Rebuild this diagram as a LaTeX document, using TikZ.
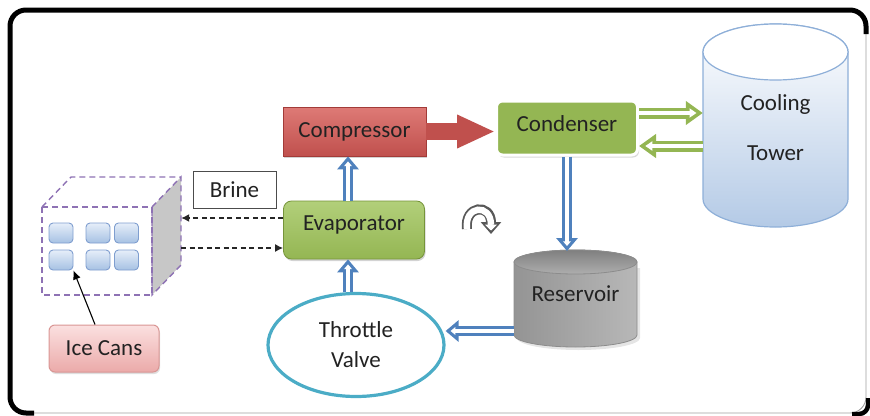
\documentclass[tikz,border=0pt]{standalone}
\usepackage{fontspec}
\setmainfont{Carlito}
\usetikzlibrary{arrows.meta,shapes.geometric,shadows,calc}

\definecolor{frameGray}{HTML}{A0A0A0}
\definecolor{compRed}{HTML}{C0504D}
\definecolor{compRedLight}{HTML}{DE7A76}
\definecolor{compRedDark}{HTML}{A23B38}
\definecolor{leafGreen}{HTML}{94B653}
\definecolor{leafGreenLight}{HTML}{B2CF7A}
\definecolor{leafGreenDark}{HTML}{76943A}
\definecolor{pipeBlue}{HTML}{4F81BD}
\definecolor{valveCyan}{HTML}{4BACC6}
\definecolor{tankPurple}{HTML}{8E72B4}
\definecolor{towerEdge}{HTML}{8EAFD8}
\definecolor{towerFill}{HTML}{B4CAE6}
\definecolor{canEdge}{HTML}{7F9ECF}
\definecolor{canTop}{HTML}{E6EEF9}
\definecolor{canBottom}{HTML}{A6C1E3}
\definecolor{tagEdge}{HTML}{D99694}
\definecolor{tagTop}{HTML}{FBE0E0}
\definecolor{tagBottom}{HTML}{EBAAA9}
\definecolor{inkGray}{HTML}{222222}

\tikzset{
  every node/.style={font=\fontsize{23}{27}\selectfont, text=inkGray},
  unitbox/.style={minimum width=#1, inner sep=0pt},
  pipe/.style={line width=10pt, -{Triangle[length=13pt,width=21pt]}},
  pipecore/.style={white, line width=3.6pt, shorten >=5pt, -{Triangle[length=4.7pt,width=7.6pt]}},
  gpipe/.style={line width=11pt, -{Triangle[length=17pt,width=23pt]}},
  gpipecore/.style={white, line width=4.4pt, shorten >=6.3pt, -{Triangle[length=7pt,width=9pt]}},
  brineflow/.style={black!85, line width=1.3pt, dash pattern=on 5pt off 3.5pt, -{Latex[length=8pt,width=8pt]}},
  icecan/.style={rounded corners=4pt, draw=canEdge, line width=0.9pt, top color=canTop, bottom color=canBottom, minimum width=24pt, minimum height=20pt, inner sep=0pt},
  greenbox/.style={rounded corners=8pt, draw=leafGreenDark, line width=0.8pt, top color=leafGreenLight, bottom color=leafGreen, inner sep=0pt},
  tankedge/.style={draw=tankPurple, line width=1.4pt, dash pattern=on 6pt off 4pt},
}

% hollow block arrow: coloured outline, white core
\newcommand{\hollowpipe}[4]{%
  \draw[#1, #2] #3 -- #4;
  \draw[#2core] #3 -- #4;
}

\begin{document}
\begin{tikzpicture}[x=1pt,y=-1pt]
\useasboundingbox (0,0) rectangle (870,415);

% outer frame
\draw[frameGray, line width=0.9pt, rounded corners=16pt] (10,10) rectangle (866,413);
\draw[black, line width=5pt, rounded corners=16pt] (34,413) -- (10,413) -- (10,10) -- (866,10) -- (866,34);
\draw[black, line width=4.5pt, rounded corners=9pt] (868,398) -- (868,414) -- (852,414);

% cooling tower cylinder
\shade[top color=white, bottom color=towerFill, draw=towerEdge, line width=1.2pt]
  (703,52) -- (703,199) arc[start angle=180, end angle=0, x radius=72.5, y radius=28]
  -- (848,52) arc[start angle=0, end angle=-180, x radius=72.5, y radius=28] -- cycle;
\draw[towerEdge, line width=1.2pt, fill=white] (775.5,52) ellipse[x radius=72.5, y radius=28];
\node[unitbox=145pt, minimum height=150pt, align=center, font=\fontsize{23}{50}\selectfont] (ct) at (775.5,128) {Cooling\\Tower};

% reservoir cylinder
\fill[black!10] (517,268) -- (517,338) arc[start angle=180, end angle=0, x radius=61.5, y radius=12] -- (640,268) -- cycle;
\shade[left color=black!42, middle color=black!6, right color=black!28, draw=black!45, line width=0.8pt]
  (514,262) -- (514,335) arc[start angle=180, end angle=0, x radius=61.5, y radius=12]
  -- (637,262) arc[start angle=0, end angle=-180, x radius=61.5, y radius=12] -- cycle;
\shade[top color=black!50, bottom color=black!32, draw=black!45, line width=0.8pt] (575.5,262) ellipse[x radius=61.5, y radius=12];
\node[unitbox=123pt, minimum height=60pt] (res) at (575.5,294) {Reservoir};
\coordinate (resTop) at (575.5,251);
\coordinate (resWest) at (514,331);

% machinery boxes
\node[draw=compRedDark, line width=0.8pt, top color=compRedLight, bottom color=compRed,
      minimum width=143pt, minimum height=49pt, inner sep=0pt,
      drop shadow={shadow xshift=1pt, shadow yshift=-2pt, opacity=0.35}] (comp) at (354.5,131.5) {Compressor};
\node[greenbox, minimum width=141pt, minimum height=58pt, text height=15pt, text depth=14pt,
      drop shadow={shadow xshift=1pt, shadow yshift=-2pt, opacity=0.35}] (evap) at (354,230) {Evaporator};
\node[rounded corners=6pt, fill=leafGreen, draw=white, line width=3pt,
      minimum width=141pt, minimum height=54pt, inner sep=0pt, text height=15pt, text depth=8pt,
      drop shadow={shadow xshift=1.5pt, shadow yshift=-2.5pt, opacity=0.3}] (cond) at (567,128) {Condenser};
\node[ellipse, draw=valveCyan, line width=3.2pt, fill=white, minimum width=176pt, minimum height=103pt,
      align=center, font=\fontsize{23}{30}\selectfont] (tv) at (356,345) {Throttle\\Valve};

% ice tank
\filldraw[fill=black!22, tankedge] (152,207) -- (181,177) -- (181,265) -- (152,295) -- cycle;
\draw[tankedge] (42,207) rectangle (152,295);
\draw[tankedge] (42,207) -- (71,177) -- (181,177);
\node[unitbox=139pt, minimum height=118pt] (tank) at (111.5,236) {};
\node[icecan] (can1) at (61,233) {};
\node[icecan] (can2) at (98,233) {};
\node[icecan] (can3) at (126.5,233) {};
\node[icecan] (can4) at (61,260) {};
\node[icecan] (can5) at (98,260) {};
\node[icecan] (can6) at (126.5,260) {};

% labels
\node[draw=black!70, line width=0.9pt, fill=white, minimum width=83pt, minimum height=37pt, inner sep=0pt] (brine) at (234.5,189.5) {Brine};
\node[rounded corners=6pt, draw=tagEdge, line width=1pt, top color=tagTop, bottom color=tagBottom,
      minimum width=110pt, minimum height=47pt, inner sep=0pt,
      drop shadow={shadow xshift=1pt, shadow yshift=-2pt, opacity=0.25}] (tag) at (104,348.5) {Ice Cans};

% brine loop
\draw[brineflow] ([yshift=12pt]evap.west) -- ([yshift=12pt]evap.west -| tank.east);
\draw[brineflow] ([yshift=-18pt]evap.west -| tank.east) -- ([yshift=-18pt]evap.west);
\draw[black, line width=1.1pt, -{Latex[length=9pt,width=8pt]}] ([xshift=-9pt]tag.north) -- (can4.south east);

% refrigerant circuit
\draw[compRed, line width=17pt, -{Triangle[length=38pt,width=31pt]}] (comp.east) -- (comp.east -| cond.west);
\hollowpipe{pipeBlue}{pipe}{([xshift=-6pt]evap.north)}{([xshift=-6pt]evap.north |- comp.south)}
\hollowpipe{pipeBlue}{pipe}{([xshift=-8pt]tv.north)}{([xshift=-8pt]tv.north |- evap.south)}
\hollowpipe{pipeBlue}{pipe}{(cond.south)}{(cond.south |- resTop)}
\hollowpipe{pipeBlue}{pipe}{(resWest)}{(resWest -| tv.east)}

% cooling water loop
\hollowpipe{leafGreen}{gpipe}{([yshift=15pt]cond.east)}{([yshift=15pt]cond.east -| ct.west)}
\hollowpipe{leafGreen}{gpipe}{([yshift=-18pt]cond.east -| ct.west)}{([yshift=-18pt]cond.east)}

% circulation sense mark (hollow curved arrow)
\draw[black!65, line width=10pt, -{Triangle[length=12pt,width=20pt]}] (467,229) .. controls (464,205) and (491,203) .. (491,234);
\draw[white, line width=6.4pt, shorten >=3.5pt, -{Triangle[length=6pt,width=12pt]}] (467,229) .. controls (464,205) and (491,203) .. (491,234);
\end{tikzpicture}
\end{document}
